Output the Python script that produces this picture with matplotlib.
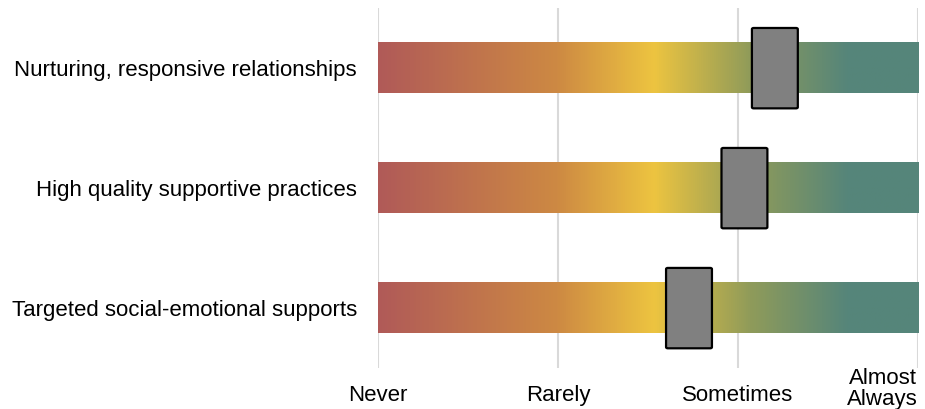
import numpy as np
import matplotlib.pyplot as plt
from matplotlib.colors import LinearSegmentedColormap
from matplotlib.patches import FancyBboxPatch

plt.rcParams['font.family'] = ['Liberation Sans', 'DejaVu Sans']

categories = ['Nurturing, responsive relationships',
              'High quality supportive practices',
              'Targeted social-emotional supports']
scores = [2.205, 2.036, 1.728]   # marker centre (0 = Never, 3 = Almost Always)
scale_labels = ['Never', 'Rarely', 'Sometimes', 'Almost\nAlways']

cmap = LinearSegmentedColormap.from_list('freq', [
    (0.00, '#b05a58'),
    (0.33, '#cd8943'),
    (0.51, '#edc440'),
    (0.69, '#8f9b5a'),
    (0.87, '#55857a'),
    (1.00, '#56857a'),
])

fig = plt.figure(figsize=(9.25, 4.09), dpi=100)
ax = fig.add_axes([0.4086, 0.100, 0.5838, 0.880])

for x in range(4):
    ax.axvline(x, color='#d9d9d9', lw=1.5, zorder=0)

bar_h = 0.42
box_w = 0.255
box_h = 0.67
grad = np.linspace(0, 1, 512).reshape(1, -1)
for i, s in enumerate(scores):
    yc = i + 0.5
    ax.imshow(grad, cmap=cmap, aspect='auto',
              extent=[0, 3, yc + bar_h / 2, yc - bar_h / 2], zorder=1)
    box = FancyBboxPatch((s - box_w / 2, yc - box_h / 2), box_w, box_h,
                         boxstyle='round,pad=0,rounding_size=0.01',
                         facecolor='#808080', edgecolor='black', lw=1.6, zorder=3)
    ax.add_patch(box)

ax.set_xlim(0, 3)
ax.set_ylim(3, 0)

ax.set_yticks([i + 0.5 for i in range(len(categories))])
ax.set_yticklabels(categories, fontsize=16)
ax.tick_params(axis='y', length=0, pad=15)

# scale labels under the gridlines
ax.set_xticks(range(4))
ax.set_xticklabels([])
ax.tick_params(axis='x', length=0)
trans = ax.get_xaxis_transform()
for x, lab in enumerate(scale_labels):
    if '\n' in lab:
        ax.text(x, -0.058, lab, transform=trans, ha='right', va='center',
                multialignment='center', fontsize=16, linespacing=1.05)
    else:
        ax.text(x, -0.075, lab, transform=trans, ha='center', va='center',
                fontsize=16)

for sp in ax.spines.values():
    sp.set_visible(False)

fig.savefig('out.png', dpi=100)
